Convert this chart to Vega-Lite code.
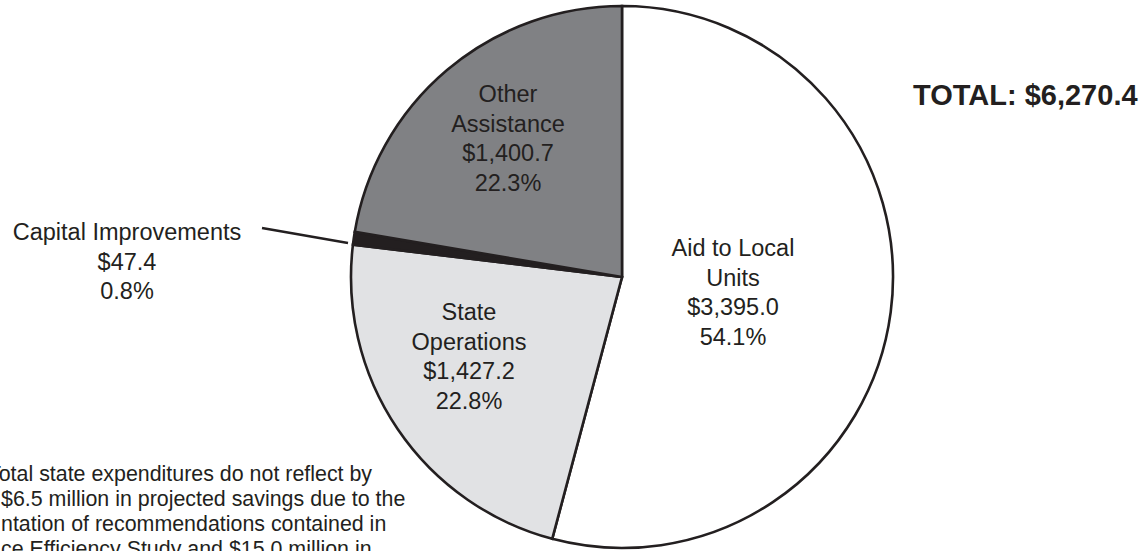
{
  "$schema": "https://vega.github.io/schema/vega-lite/v6.json",
  "autosize": "none",
  "padding": {"left": 99, "top": 1, "right": 0, "bottom": 0},
  "width": 1046,
  "height": 552,
  "background": "white",
  "config": {"view": {"stroke": null}},
  "datasets": {
    "slices": [
      {"name": "Aid to Local Units", "value": 3395.0, "ord": 1},
      {"name": "State Operations", "value": 1427.2, "ord": 2},
      {"name": "Capital Improvements", "value": 47.4, "ord": 3},
      {"name": "Other Assistance", "value": 1400.7, "ord": 4}
    ],
    "labels": [
      {"label": "Other\nAssistance\n$1,400.7\n22.3%", "x": -114, "y": 182},
      {"label": "Aid to Local\nUnits\n$3,395.0\n54.1%", "x": 111, "y": 28},
      {"label": "State\nOperations\n$1,427.2\n22.8%", "x": -153, "y": -36},
      {"label": "Capital Improvements\n$47.4\n0.8%", "x": -495, "y": 44}
    ],
    "total": [
      {"label": "TOTAL: $6,270.4", "x": 291, "y": 181}
    ],
    "footnote": [
      {"label": "Total state expenditures do not reflect by", "x": -634, "y": -198},
      {"label": "$6.5 million in projected savings due to the", "x": -621, "y": -223},
      {"label": "ntation of recommendations contained in", "x": -621, "y": -248},
      {"label": "ce Efficiency Study and $15.0 million in", "x": -621, "y": -273}
    ],
    "leader": [
      {"x": -360, "y": 49, "x2": -274, "y2": 34}
    ]
  },
  "layer": [
    {
      "data": {"name": "slices"},
      "mark": {"type": "arc", "outerRadius": 271, "stroke": "#231f20", "strokeWidth": 2.6},
      "encoding": {
        "theta": {"field": "value", "type": "quantitative"},
        "order": {"field": "ord", "type": "quantitative"},
        "color": {
          "field": "name",
          "type": "nominal",
          "scale": {
            "domain": ["Aid to Local Units", "State Operations", "Capital Improvements", "Other Assistance"],
            "range": ["#ffffff", "#e1e2e4", "#231f20", "#808184"]
          },
          "legend": null
        }
      }
    },
    {
      "data": {"name": "leader"},
      "mark": {"type": "rule", "stroke": "#231f20", "strokeWidth": 2.4},
      "encoding": {
        "x": {"field": "x", "type": "quantitative", "scale": {"domain": [-523, 523]}, "axis": null},
        "y": {"field": "y", "type": "quantitative", "scale": {"domain": [-276, 276]}, "axis": null},
        "x2": {"field": "x2"},
        "y2": {"field": "y2"}
      }
    },
    {
      "data": {"name": "labels"},
      "mark": {"type": "text", "font": "Liberation Sans", "fontSize": 23.5, "lineHeight": 29.7, "lineBreak": "\n", "align": "center", "baseline": "middle", "color": "#231f20"},
      "encoding": {
        "x": {"field": "x", "type": "quantitative", "scale": {"domain": [-523, 523]}, "axis": null},
        "y": {"field": "y", "type": "quantitative", "scale": {"domain": [-276, 276]}, "axis": null},
        "text": {"field": "label", "type": "nominal"}
      }
    },
    {
      "data": {"name": "total"},
      "mark": {"type": "text", "font": "Liberation Sans", "fontSize": 29, "fontWeight": "bold", "align": "left", "baseline": "middle", "color": "#231f20"},
      "encoding": {
        "x": {"field": "x", "type": "quantitative", "scale": {"domain": [-523, 523]}, "axis": null},
        "y": {"field": "y", "type": "quantitative", "scale": {"domain": [-276, 276]}, "axis": null},
        "text": {"field": "label", "type": "nominal"}
      }
    },
    {
      "data": {"name": "footnote"},
      "mark": {"type": "text", "font": "Liberation Sans", "fontSize": 21.4, "align": "left", "baseline": "middle", "color": "#231f20"},
      "encoding": {
        "x": {"field": "x", "type": "quantitative", "scale": {"domain": [-523, 523]}, "axis": null},
        "y": {"field": "y", "type": "quantitative", "scale": {"domain": [-276, 276]}, "axis": null},
        "text": {"field": "label", "type": "nominal"}
      }
    }
  ]
}
